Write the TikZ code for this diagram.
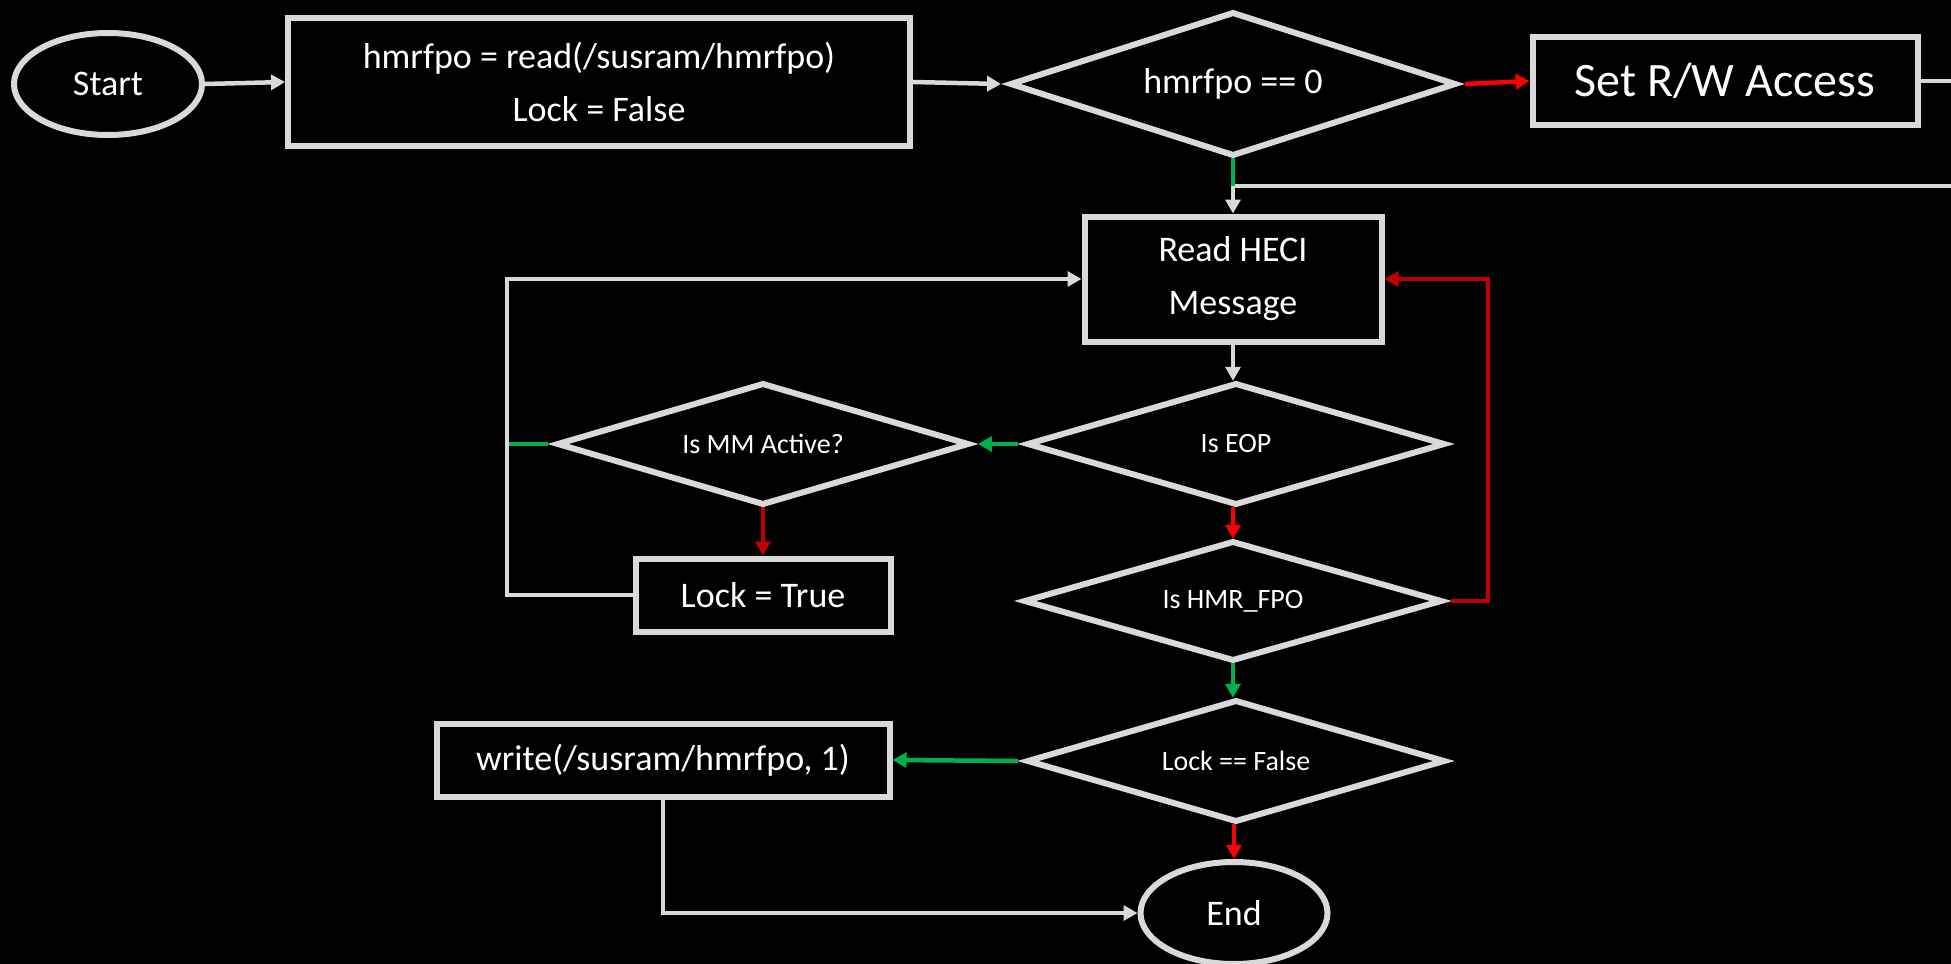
\documentclass[tikz,border=0pt]{standalone}
\usepackage{fontspec}
\setmainfont{Carlito}
\usetikzlibrary{shapes.geometric,arrows.meta}
\definecolor{lg}{HTML}{D9D9D9}
\definecolor{gr}{HTML}{00B050}
\definecolor{rd}{HTML}{FF0000}
\definecolor{drd}{HTML}{C00000}
\tikzset{
  base/.style={draw=lg, line width=3pt, fill=black, text=white, inner sep=0pt, align=center},
  box/.style={base, rectangle, font=\fontsize{18}{26.5}\selectfont},
  dia/.style={rectangle, text=white, inner sep=0pt, outer xsep=5pt, outer ysep=1.6pt, align=center, font=\fontsize{14}{17}\selectfont},
  dline/.style={draw=lg, line width=3pt, line join=miter},
  oval/.style={base, ellipse, font=\fontsize{18}{22}\selectfont},
  conn/.style={line width=2.25pt},
  tip/.style={-{Triangle[length=7pt,width=7.5pt]}},
  gline/.style={conn, draw=lg},
  garrow/.style={conn, draw=lg, tip},
  grline/.style={conn, draw=gr},
  grarrow/.style={conn, draw=gr, tip},
  rarrow/.style={conn, draw=rd, tip},
  drarrow/.style={conn, draw=drd, tip}
}
\newcommand\diaoutline[3]{\draw[dline] ([yshift=#3]#1.center) -- ([xshift=#2]#1.center) -- ([yshift=-#3]#1.center) -- ([xshift=-#2]#1.center) -- cycle;}
\begin{document}
\begin{tikzpicture}[x=0.5pt,y=-0.5pt]
\path[use as bounding box, fill=black] (0,0) rectangle (1951,964);

% nodes
\node[oval, minimum width=94pt, minimum height=51pt] (start) at (108,84) {Start};
\node[box, minimum width=311pt, minimum height=64pt] (box1) at (599,82)
  {hmrfpo = read(/susram/hmrfpo)\\Lock = False};
\node[dia, minimum width=222pt, minimum height=71pt, font=\fontsize{18}{22}\selectfont] (d1) at (1233,84) {hmrfpo == 0};
\node[box, minimum width=192.5pt, minimum height=44pt, font=\fontsize{24}{28}\selectfont] (setrw) at (1725,81) {Set R/W Access};
\node[box, minimum width=148.5pt, minimum height=62.5pt] (heci) at (1233,279) {Read HECI\\Message};
\node[dia, minimum width=205pt, minimum height=60pt] (mm) at (763,444) {Is MM Active?};
\node[dia, minimum width=208pt, minimum height=60pt] (eop) at (1236,444) {Is EOP};
\node[box, minimum width=127.5pt, minimum height=36.5pt] (lock) at (763,595) {Lock = True};
\node[dia, minimum width=208pt, minimum height=59pt] (hmr) at (1233,601) {Is HMR\_FPO};
\node[dia, minimum width=208pt, minimum height=60pt] (lockf) at (1236,761) {Lock == False};
\node[box, minimum width=226.5pt, minimum height=36.5pt] (write) at (663,760) {write(/susram/hmrfpo, 1)};
\node[oval, minimum width=93.5pt, minimum height=51pt] (endn) at (1234,913) {End};

% diamond outlines
\diaoutline{d1}{111pt}{35.5pt}
\diaoutline{mm}{102.5pt}{30pt}
\diaoutline{eop}{104pt}{30pt}
\diaoutline{hmr}{104pt}{29.5pt}
\diaoutline{lockf}{104pt}{30pt}

% helper coordinates
\coordinate (offA) at (1995,81);
\coordinate (offB) at (1995,186);
\coordinate (j1) at (1233,186);
\coordinate (j2) at (507,444);
\coordinate (lp) at (507,279);
\coordinate (rr) at (1488,279);

% connectors
\draw[garrow] (start.east) -- (box1.west);
\draw[garrow] (box1.east) -- (d1.west);
\draw[rarrow] (d1.east) -- (setrw.west);
\draw[garrow] (setrw.east) -- (offA) -- (offB) -- (j1) -- (heci.north);
\draw[grline] (d1.south) -- (j1);
\draw[garrow] (heci.south) -- (eop.north -| heci.south);
\draw[grarrow] (eop.west) -- (mm.east);
\draw[grline] (mm.west) -- (j2);
\draw[garrow] (lock.west) -| (lp) -- (heci.west);
\draw[drarrow] (mm.south) -- (lock.north);
\draw[rarrow] (eop.south -| hmr.north) -- (hmr.north);
\draw[drarrow] (hmr.east) -| (rr) -- (heci.east);
\draw[grarrow] (hmr.south) -- (hmr.south |- lockf.north);
\draw[grarrow] (lockf.west) -- (write.east);
\draw[rarrow] (lockf.south -| endn.north) -- (endn.north);
\draw[garrow] (write.south) |- (endn.west);
\end{tikzpicture}
\end{document}
